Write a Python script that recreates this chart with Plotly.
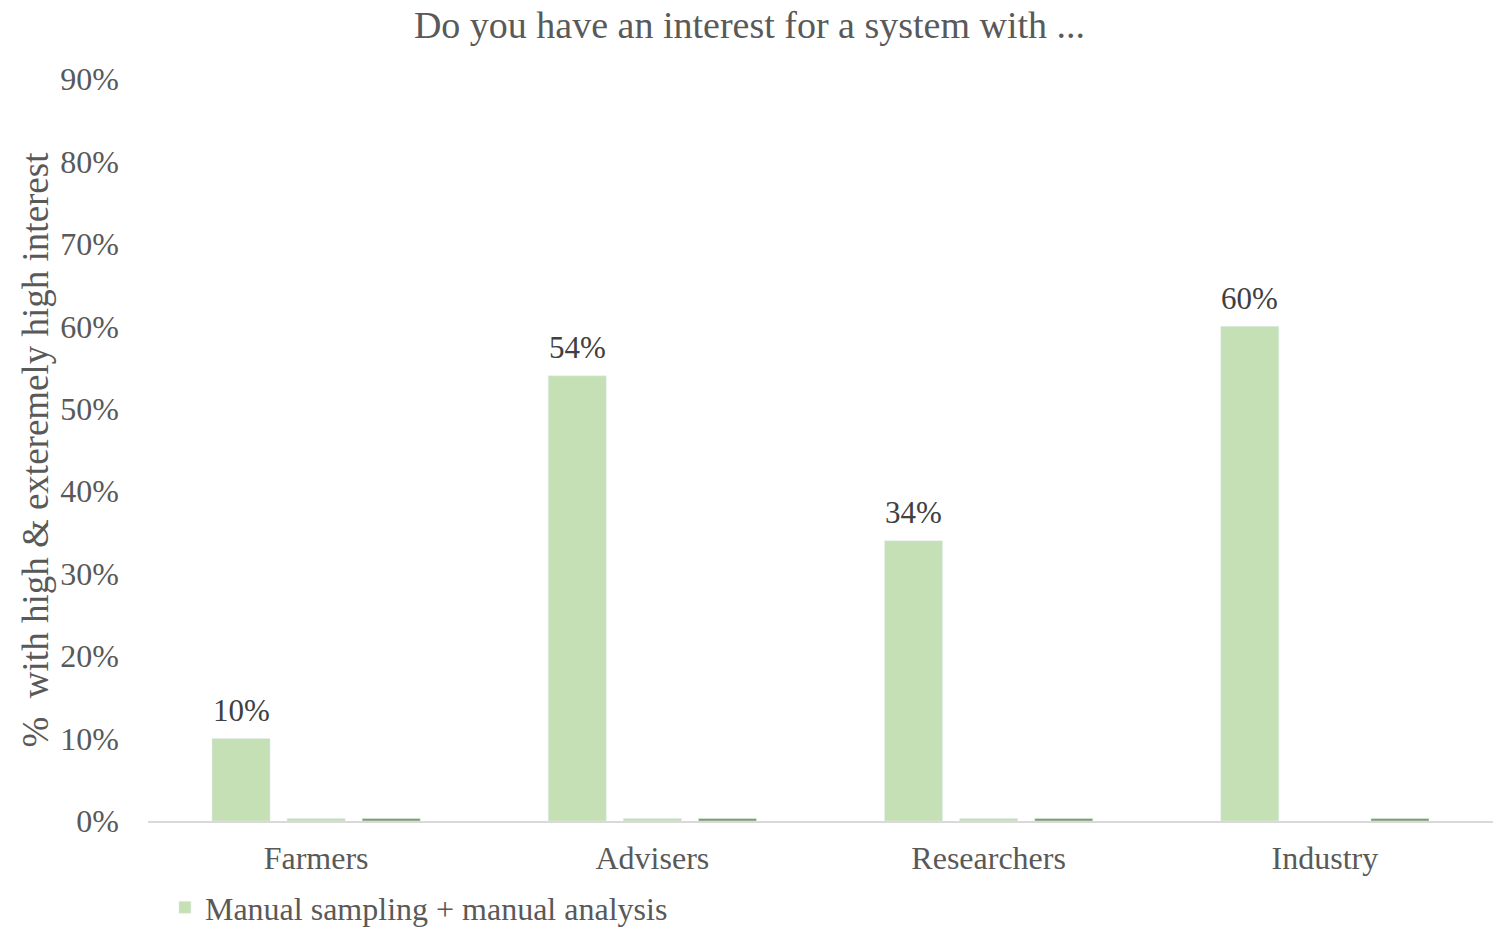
import plotly.graph_objects as go

# Survey groups and share of respondents with high / extremely high interest
categories = ["Farmers", "Advisers", "Researchers", "Industry"]
manual_manual = [0.10, 0.54, 0.34, 0.60]
series_two = [0.003, 0.003, 0.003, None]
series_three = [0.003, 0.003, 0.003, 0.003]

FONT = "Liberation Serif"
GREY = "#595959"

W, H = 1499, 935
ML, MR, MT, MB = 148, 6, 79, 114
BARGAP, GROUPGAP = 0.33, 0.227
N_SERIES = 3

fig = go.Figure()
fig.add_trace(go.Bar(
    x=categories, y=manual_manual,
    name="Manual sampling + manual analysis",
    marker=dict(color="#C5E0B4"),
))
fig.add_trace(go.Bar(
    x=categories, y=series_two, name="Series 2",
    marker=dict(color="#C3DDB0"), showlegend=False,
))
fig.add_trace(go.Bar(
    x=categories, y=series_three, name="Series 3",
    marker=dict(color="#7E9E68"), showlegend=False,
))

# value labels above the first bar of each group
plot_w = W - ML - MR
slot = plot_w / len(categories) * (1 - BARGAP) / N_SERIES
for cat, v in zip(categories, manual_manual):
    fig.add_annotation(
        x=cat, y=v, xref="x", yref="y", text=f"{v:.0%}",
        showarrow=False, xshift=-slot, yshift=28, yanchor="middle",
        font=dict(family=FONT, size=31, color="#404040"),
    )

fig.update_layout(
    width=W, height=H,
    margin=dict(l=ML, r=MR, t=MT, b=MB, autoexpand=False),
    paper_bgcolor="white", plot_bgcolor="white",
    barmode="group", bargap=BARGAP, bargroupgap=GROUPGAP,
    font=dict(family=FONT, size=32, color=GREY),
    title=dict(
        text="Do you have an interest for a system with ...",
        x=0.5, xanchor="center", y=1 - 25 / H, yanchor="middle",
        font=dict(family=FONT, size=38, color=GREY),
    ),
    showlegend=True,
    legend=dict(
        orientation="h", x=0.0126, xanchor="left",
        yref="container", y=0.0, yanchor="bottom",
        font=dict(family=FONT, size=32, color=GREY),
        itemwidth=30,
    ),
)
fig.update_yaxes(
    range=[0, 0.9], dtick=0.1, tickformat=".0%",
    showgrid=False, zeroline=False, showline=False,
    ticklabelstandoff=28,
    tickfont=dict(family=FONT, size=32, color=GREY),
    title=dict(text="%  with high & exteremely high interest",
               font=dict(family=FONT, size=37, color=GREY), standoff=0),
)
fig.update_xaxes(
    showgrid=False, showline=True, linecolor="#D9D9D9", linewidth=2,
    ticks="", ticklabelstandoff=8,
    tickfont=dict(family=FONT, size=32, color=GREY),
)

fig.write_html("out.html")
